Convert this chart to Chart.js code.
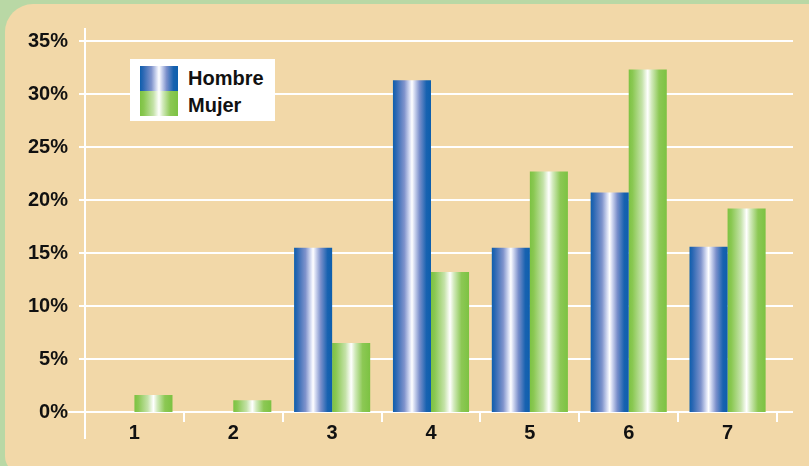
<!DOCTYPE html>
<html>
<head>
<meta charset="utf-8">
<script src="https://cdn.jsdelivr.net/npm/chart.js@4"></script>
<style>
  html, body { margin: 0; padding: 0; }
  body { width: 809px; height: 466px; background: #b9d8a5; position: relative; overflow: hidden; }
  #panel { position: absolute; left: 5px; top: 4px; width: 820px; height: 470px; background: #f2d8a8;
           border-radius: 28px 16px 0 18px; }
  #wrap { position: absolute; left: 0; top: 0; width: 809px; height: 466px; }
  #legend { position: absolute; left: 130px; top: 59px; width: 145px; height: 62px; background: #fff; }
  .sw { position: absolute; left: 10px; width: 38px; height: 25px; }
  .lbl { position: absolute; left: 58px; font: bold 20px "Liberation Sans", Arial, sans-serif; line-height: 20px; color: #111; }
</style>
</head>
<body>
<div id="panel"></div>
<div id="wrap"><canvas id="chart" width="809" height="466"></canvas></div>
<div id="legend">
  <div class="sw" style="top:7px;background:linear-gradient(90deg,#0d5fad 0%,#2a67b3 8%,#7f93cc 30%,#dfe4f6 45%,#fff 50%,#d6dcf2 56%,#7a8fcb 70%,#1862b0 88%,#0d5fad 100%)"></div>
  <div class="sw" style="top:32px;background:linear-gradient(90deg,#7cc242 0%,#8ac852 10%,#c4e2a8 35%,#fff 50%,#d2eabc 60%,#8cc854 80%,#7cc242 100%)"></div>
  <div class="lbl" style="top:9px">Hombre</div>
  <div class="lbl" style="top:36px">Mujer</div>
</div>
<script>
const categories = ['1', '2', '3', '4', '5', '6', '7'];
const hombre = [0, 0, 15.5, 31.3, 15.5, 20.7, 15.6];
const mujer = [1.6, 1.1, 6.5, 13.2, 22.7, 32.3, 19.2];
const yMax = 35;
const yStep = 5;

const catPct = 0.77;

const blueStops = [[0, '#0d5fad'], [0.08, '#2a67b3'], [0.3, '#7f93cc'], [0.45, '#dfe4f6'], [0.5, '#ffffff'],
                   [0.56, '#d6dcf2'], [0.7, '#7a8fcb'], [0.88, '#1862b0'], [1, '#0d5fad']];
const greenStops = [[0, '#7cc242'], [0.1, '#8ac852'], [0.35, '#c4e2a8'], [0.5, '#ffffff'],
                    [0.6, '#d2eabc'], [0.8, '#8cc854'], [1, '#7cc242']];

// gradient per bar, positioned from the x scale
function barGradient(stops, fallback) {
    return (c) => {
        const chart = c.chart;
        const x = chart.scales.x;
        if (!chart.chartArea || !x || c.dataIndex === undefined) return fallback;
        const catW = (x.right - x.left) / categories.length;
        const groupW = catW * catPct;
        const center = x.getPixelForValue(c.dataIndex);
        const left = center - groupW / 2 + c.datasetIndex * groupW / 2;
        const g = chart.ctx.createLinearGradient(left, 0, left + groupW / 2, 0);
        stops.forEach(s => g.addColorStop(s[0], s[1]));
        return g;
    };
}

// white grid lines and axis, extended past the chart area
const axisLines = {
    id: 'axisLines',
    beforeDatasetsDraw(chart) {
        const { ctx, chartArea: a, scales: { y } } = chart;
        ctx.save();
        ctx.strokeStyle = '#ffffff';
        ctx.lineWidth = 2;
        y.ticks.forEach(t => {
            const py = Math.round(y.getPixelForValue(t.value));
            ctx.beginPath();
            ctx.moveTo(t.value === 0 ? a.left - 17 : a.left - 6, py);
            ctx.lineTo(a.right + 16, py);
            ctx.stroke();
        });
        ctx.beginPath();
        ctx.moveTo(a.left, a.top - 13);
        ctx.lineTo(a.left, a.bottom + 27);
        ctx.stroke();
        ctx.restore();
    }
};

const font = { family: '"Liberation Sans", Arial, sans-serif', size: 20, weight: 'bold' };

new Chart(document.getElementById('chart'), {
    type: 'bar',
    data: {
        labels: categories,
        datasets: [
            { label: 'Hombre', data: hombre, backgroundColor: barGradient(blueStops, '#0d5fad') },
            { label: 'Mujer', data: mujer, backgroundColor: barGradient(greenStops, '#7cc242') }
        ]
    },
    options: {
        responsive: false,
        animation: false,
        events: [],
        layout: { padding: { top: 41, right: 32, left: 0, bottom: 0 } },
        datasets: { bar: { categoryPercentage: catPct, barPercentage: 1 } },
        plugins: { legend: { display: false }, tooltip: { enabled: false } },
        scales: {
            x: {
                grid: { display: true, drawOnChartArea: false, drawTicks: true, tickLength: 10,
                        color: '#ffffff', lineWidth: 2, offset: true },
                border: { display: false },
                ticks: { color: '#111', font: font, padding: -1, maxRotation: 0 },
                afterFit: (s) => { s.height = 54; }
            },
            y: {
                min: 0,
                max: yMax,
                grid: { display: false, drawTicks: false },
                border: { display: false },
                ticks: { stepSize: yStep, color: '#111', font: font, padding: 17,
                         callback: (v) => v + '%' },
                afterFit: (s) => { s.width = 85; }
            }
        }
    },
    plugins: [axisLines]
});
</script>
</body>
</html>
